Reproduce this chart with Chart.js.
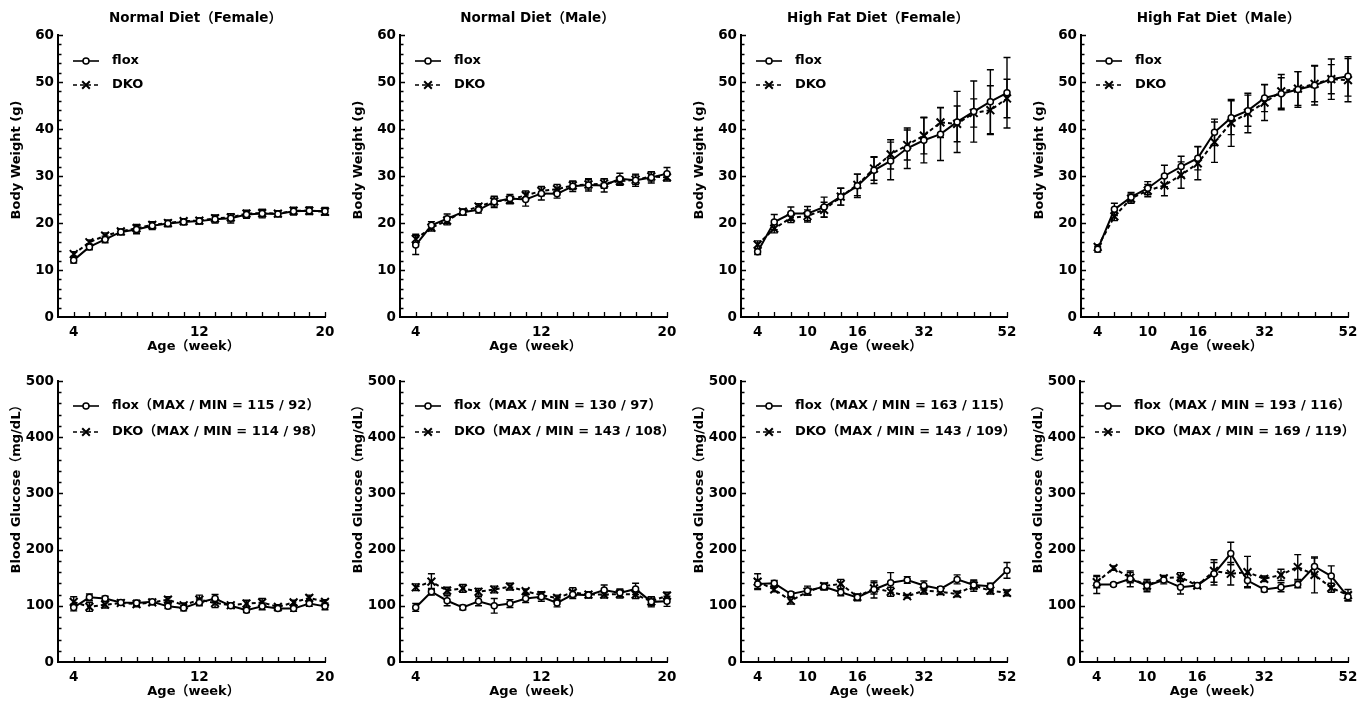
<!DOCTYPE html>
<html>
<head>
<meta charset="utf-8">
<script src="https://cdn.jsdelivr.net/npm/chart.js@4.4.1/dist/chart.umd.min.js"></script>
<style>
  body { margin: 0; background: #fff; width: 1368px; height: 703px; position: relative; overflow: hidden; }
  canvas { position: absolute; }
</style>
</head>
<body>
<canvas id="c0"></canvas><canvas id="c1"></canvas><canvas id="c2"></canvas><canvas id="c3"></canvas>
<canvas id="c4"></canvas><canvas id="c5"></canvas><canvas id="c6"></canvas><canvas id="c7"></canvas>
<script>
// x categories (weeks)
const weeksND = [4, 5, 6, 7, 8, 9, 10, 11, 12, 13, 14, 15, 16, 17, 18, 19, 20];
const weeksHFD = [4, 6, 8, 10, 12, 14, 16, 20, 24, 28, 32, 36, 40, 44, 48, 52];
const ticksND = [4, 12, 20];
const ticksHFD = [4, 10, 16, 32, 52];

// body weight (g), mean and error
const bwNdFemFlox = [12.1, 14.9, 16.5, 18.1, 18.6, 19.4, 19.9, 20.2, 20.4, 20.8, 21.0, 21.8, 22.0, 21.9, 22.5, 22.6, 22.5];
const bwNdFemFloxErr = [0.6, 0.6, 0.7, 0.6, 0.9, 0.8, 0.7, 0.6, 0.6, 0.8, 1.0, 0.8, 0.9, 0.6, 0.8, 0.8, 0.8];
const bwNdFemDko = [13.4, 15.9, 17.3, 18.2, 18.9, 19.6, 20.0, 20.4, 20.5, 21.0, 21.2, 22.0, 22.1, 22.0, 22.6, 22.6, 22.4];
const bwNdFemDkoErr = [0.5, 0.5, 0.6, 0.5, 0.8, 0.7, 0.6, 0.5, 0.6, 0.7, 0.8, 0.7, 0.8, 0.6, 0.7, 0.7, 0.7];

const bwNdMalFlox = [15.3, 19.5, 20.9, 22.3, 22.8, 24.5, 25.2, 25.0, 26.3, 26.2, 27.8, 28.1, 28.0, 29.4, 29.1, 29.7, 30.5];
const bwNdMalFloxErr = [2.0, 0.8, 1.0, 0.6, 0.7, 1.2, 0.9, 1.4, 1.4, 0.9, 1.1, 1.3, 1.4, 1.2, 1.3, 1.2, 1.3];
const bwNdMalDko = [16.6, 19.0, 20.5, 22.4, 23.5, 24.6, 24.9, 25.9, 26.8, 27.2, 28.0, 28.2, 28.4, 28.9, 29.2, 29.9, 29.7];
const bwNdMalDkoErr = [1.0, 0.7, 0.9, 0.6, 0.6, 1.0, 0.8, 0.9, 1.0, 1.0, 0.9, 1.0, 1.0, 0.9, 1.0, 1.0, 0.8];

const bwHfdFemFlox = [13.9, 20.2, 22.0, 22.0, 23.4, 25.6, 27.9, 31.2, 33.2, 35.9, 37.6, 38.9, 41.5, 43.7, 45.8, 47.7];
const bwHfdFemFloxErr = [0.6, 1.6, 1.4, 1.5, 2.1, 1.8, 2.5, 2.8, 4.0, 4.3, 4.8, 5.6, 6.5, 6.5, 6.8, 7.5];
const bwHfdFemDko = [15.4, 18.8, 21.1, 21.5, 22.8, 25.6, 28.1, 31.6, 34.6, 36.6, 38.6, 41.4, 41.1, 43.4, 44.0, 46.5];
const bwHfdFemDkoErr = [0.8, 0.9, 1.0, 1.3, 1.6, 1.8, 2.3, 2.5, 3.1, 3.2, 3.9, 3.2, 3.8, 3.0, 5.2, 4.1];

const bwHfdMalFlox = [14.4, 22.9, 25.5, 27.4, 30.0, 32.0, 33.8, 39.3, 42.4, 43.9, 46.6, 47.5, 48.4, 49.3, 50.6, 51.2];
const bwHfdMalFloxErr = [0.6, 1.3, 1.0, 1.4, 2.3, 2.2, 2.5, 2.8, 3.6, 3.3, 2.9, 3.4, 3.8, 4.2, 4.3, 4.2];
const bwHfdMalDko = [14.9, 21.4, 25.2, 26.9, 28.0, 30.2, 32.7, 37.2, 41.3, 43.4, 45.6, 48.0, 48.6, 49.6, 50.6, 50.4];
const bwHfdMalDkoErr = [0.5, 0.9, 1.0, 1.3, 2.2, 2.8, 3.5, 4.3, 5.0, 4.2, 3.8, 3.6, 3.6, 3.8, 3.1, 4.6];

// blood glucose (mg/dL), mean and error
const bgNdFemFlox = [97, 115, 113, 106, 105, 107, 99, 96, 106, 113, 100, 92, 99, 95, 95, 104, 99];
const bgNdFemFloxErr = [6, 6, 4, 4, 5, 4, 4, 5, 6, 7, 4, 4, 6, 4, 5, 5, 6];
const bgNdFemDko = [107, 98, 102, 105, 103, 106, 111, 101, 111, 105, 101, 104, 106, 98, 106, 114, 107];
const bgNdFemDkoErr = [9, 8, 6, 4, 5, 4, 5, 4, 8, 8, 4, 6, 7, 4, 4, 5, 4];

const bgNdMalFlox = [97, 125, 109, 97, 108, 100, 104, 113, 116, 105, 120, 119, 128, 123, 130, 107, 108];
const bgNdMalFloxErr = [7, 6, 9, 4, 8, 13, 7, 7, 8, 7, 7, 5, 9, 7, 10, 9, 9];
const bgNdMalDko = [133, 143, 127, 131, 125, 129, 134, 126, 119, 114, 124, 120, 120, 121, 120, 108, 118];
const bgNdMalDkoErr = [6, 14, 6, 7, 6, 6, 6, 4, 6, 5, 8, 5, 6, 7, 7, 8, 6];

const bgHfdFemFlox = [139, 140, 121, 127, 134, 124, 115, 129, 141, 146, 136, 130, 147, 137, 135, 163];
const bgHfdFemFloxErr = [8, 5, 4, 8, 6, 6, 6, 15, 18, 6, 8, 4, 8, 7, 5, 14];
const bgHfdFemDko = [143, 129, 109, 125, 135, 139, 116, 131, 125, 117, 127, 125, 121, 136, 127, 123];
const bgHfdFemDkoErr = [14, 4, 6, 6, 5, 8, 4, 10, 8, 3, 6, 5, 5, 10, 6, 5];

const bgHfdMalFlox = [138, 138, 148, 136, 146, 133, 136, 157, 193, 145, 129, 133, 138, 170, 153, 116];
const bgHfdMalFloxErr = [16, 3, 14, 11, 7, 12, 4, 20, 20, 11, 4, 8, 6, 15, 18, 7];
const bgHfdMalDko = [142, 167, 150, 136, 149, 151, 136, 162, 157, 160, 148, 155, 169, 155, 132, 119];
const bgHfdMalDkoErr = [10, 4, 9, 8, 5, 8, 4, 20, 20, 28, 5, 10, 22, 32, 8, 10];

// legend labels
const legendBw = ['flox', 'DKO'];
const legendBgNdFem = ['flox（MAX / MIN = 115 / 92）', 'DKO（MAX / MIN = 114 / 98）'];
const legendBgNdMal = ['flox（MAX / MIN = 130 / 97）', 'DKO（MAX / MIN = 143 / 108）'];
const legendBgHfdFem = ['flox（MAX / MIN = 163 / 115）', 'DKO（MAX / MIN = 143 / 109）'];
const legendBgHfdMal = ['flox（MAX / MIN = 193 / 116）', 'DKO（MAX / MIN = 169 / 119）'];

const FONT = '"DejaVu Sans", "Noto Sans CJK JP", sans-serif';

const panels = [
  { cx: 0,    L: 58,   R: 325,  row: 0, nd: true,  title: 'Normal Diet（Female）', bw: true, flox: [bwNdFemFlox, bwNdFemFloxErr], dko: [bwNdFemDko, bwNdFemDkoErr], legend: legendBw },
  { cx: 342,  L: 400,  R: 667,  row: 0, nd: true,  title: 'Normal Diet（Male）', bw: true, flox: [bwNdMalFlox, bwNdMalFloxErr], dko: [bwNdMalDko, bwNdMalDkoErr], legend: legendBw },
  { cx: 684,  L: 741,  R: 1007, row: 0, nd: false, title: 'High Fat Diet（Female）', bw: true, flox: [bwHfdFemFlox, bwHfdFemFloxErr], dko: [bwHfdFemDko, bwHfdFemDkoErr], legend: legendBw },
  { cx: 1026, L: 1081, R: 1348, row: 0, nd: false, title: 'High Fat Diet（Male）', bw: true, flox: [bwHfdMalFlox, bwHfdMalFloxErr], dko: [bwHfdMalDko, bwHfdMalDkoErr], legend: legendBw },
  { cx: 0,    L: 58,   R: 325,  row: 1, nd: true,  bw: false, flox: [bgNdFemFlox, bgNdFemFloxErr], dko: [bgNdFemDko, bgNdFemDkoErr], legend: legendBgNdFem },
  { cx: 342,  L: 400,  R: 667,  row: 1, nd: true,  bw: false, flox: [bgNdMalFlox, bgNdMalFloxErr], dko: [bgNdMalDko, bgNdMalDkoErr], legend: legendBgNdMal },
  { cx: 684,  L: 741,  R: 1007, row: 1, nd: false, bw: false, flox: [bgHfdFemFlox, bgHfdFemFloxErr], dko: [bgHfdFemDko, bgHfdFemDkoErr], legend: legendBgHfdFem },
  { cx: 1026, L: 1080, R: 1348, row: 1, nd: false, bw: false, flox: [bgHfdMalFlox, bgHfdMalFloxErr], dko: [bgHfdMalDko, bgHfdMalDkoErr], legend: legendBgHfdMal },
];

const rows = [
  { cy: 0,   ch: 360, T: 35,  B: 317 },
  { cy: 350, ch: 353, T: 381, B: 662 },
];

function drawMarker(ctx, style, x, y) {
  ctx.beginPath();
  if (style === 'circle') {
    ctx.arc(x, y, 3, 0, Math.PI * 2);
    ctx.fillStyle = '#fff';
    ctx.fill();
    ctx.lineWidth = 1.5;
  } else {
    const r = 3.8;
    ctx.moveTo(x - r, y - r); ctx.lineTo(x + r, y + r);
    ctx.moveTo(x - r, y + r); ctx.lineTo(x + r, y - r);
    ctx.lineWidth = 2;
  }
  ctx.setLineDash([]);
  ctx.stroke();
}

function decor(p, r) {
  return {
    id: 'decor',
    beforeDatasetsDraw(chart) {
      const { ctx, scales: { y } } = chart;
      ctx.save();
      ctx.strokeStyle = '#000';
      ctx.lineWidth = 1.4;
      chart.data.datasets.forEach((ds, di) => {
        chart.getDatasetMeta(di).data.forEach((pt, i) => {
          const v = ds.data[i].y, e = ds.errs[i];
          const y1 = y.getPixelForValue(v + e), y2 = y.getPixelForValue(v - e);
          ctx.beginPath();
          ctx.moveTo(pt.x, y1); ctx.lineTo(pt.x, y2);
          ctx.moveTo(pt.x - 3.5, y1); ctx.lineTo(pt.x + 3.5, y1);
          ctx.moveTo(pt.x - 3.5, y2); ctx.lineTo(pt.x + 3.5, y2);
          ctx.stroke();
        });
      });
      ctx.restore();
    },
    afterDraw(chart) {
      const { ctx, chartArea: a, scales: { x, y } } = chart;
      ctx.save();
      ctx.strokeStyle = '#000';
      ctx.fillStyle = '#000';
      // inward tick marks
      ctx.lineWidth = 1.3;
      ctx.beginPath();
      y.ticks.forEach(t => {
        if (t.value === 0) return;
        const py = Math.round(y.getPixelForValue(t.value)) + 0.5;
        const len = t.value % (p.bw ? 10 : 100) === 0 ? 5 : 3.5;
        ctx.moveTo(a.left, py); ctx.lineTo(a.left + len, py);
      });
      const xs = p.nd ? weeksND : weeksHFD.map((w, i) => i);
      xs.forEach(v => {
        const px = Math.round(x.getPixelForValue(v)) + 0.5;
        ctx.moveTo(px, a.bottom); ctx.lineTo(px, a.bottom - 5);
      });
      ctx.stroke();

      // texts
      ctx.font = 'bold 13.5px ' + FONT;
      ctx.textBaseline = 'middle';
      ctx.textAlign = 'center';
      const mid = (a.left + a.right) / 2;
      if (p.title) ctx.fillText(p.title, mid + 4, a.top - 17);
      ctx.font = 'bold 13px ' + FONT;
      ctx.fillText('Age（week）', mid + 2, a.bottom + 30);
      ctx.save();
      ctx.translate(a.left - 41, a.top + (p.bw ? 125 : 105));
      ctx.rotate(-Math.PI / 2);
      ctx.fillText(p.bw ? 'Body Weight (g)' : 'Blood Glucose（mg/dL）', 0, 0);
      ctx.restore();

      // legend
      const styles = ['circle', 'crossRot'];
      p.legend.forEach((label, i) => {
        const ly = a.top + (p.bw ? 26 + i * 24 : 25 + i * 26);
        const x0 = a.left + 15, x1 = a.left + 41;
        ctx.beginPath();
        ctx.lineWidth = 1.6;
        ctx.setLineDash(i === 0 ? [] : [4, 3]);
        ctx.moveTo(x0, ly); ctx.lineTo(x1, ly);
        ctx.stroke();
        drawMarker(ctx, styles[i], (x0 + x1) / 2, ly);
        ctx.fillStyle = '#000';
        ctx.textAlign = 'left';
        ctx.fillText(label, a.left + 54, ly);
      });
      ctx.restore();
    }
  };
}

panels.forEach((p, k) => {
  const r = rows[p.row];
  const cv = document.getElementById('c' + k);
  const cw = 342;
  cv.width = cw; cv.height = r.ch;
  cv.style.left = p.cx + 'px'; cv.style.top = r.cy + 'px';
  const xs = p.nd ? weeksND : weeksHFD.map((w, i) => i);
  const mk = (vals) => xs.map((xv, i) => ({ x: xv, y: vals[i] }));
  const tickFont = { family: FONT, size: 13.5, weight: 'bold' };

  new Chart(cv, {
    type: 'line',
    data: {
      datasets: [
        { label: 'flox', data: mk(p.flox[0]), errs: p.flox[1], borderColor: '#000', borderWidth: 2,
          pointStyle: 'circle', pointRadius: 3, pointBackgroundColor: '#fff', pointBorderColor: '#000',
          pointBorderWidth: 1.5, tension: 0, clip: false },
        { label: 'DKO', data: mk(p.dko[0]), errs: p.dko[1], borderColor: '#000', borderWidth: 2, borderDash: [4, 3],
          pointStyle: 'crossRot', pointRadius: 5.5, pointBorderColor: '#000', pointBorderWidth: 2,
          tension: 0, clip: false },
      ]
    },
    options: {
      responsive: false,
      animation: false,
      devicePixelRatio: 1,
      layout: {
        padding: { left: p.L - p.cx - 40, right: p.cx + cw - p.R, top: r.T - r.cy, bottom: r.cy + r.ch - r.B - 20 }
      },
      plugins: { legend: { display: false }, tooltip: { enabled: false } },
      scales: {
        x: {
          type: 'linear',
          min: p.nd ? 3 : -1,
          max: p.nd ? 20 : 15,
          grid: { display: false, drawTicks: false },
          border: { display: true, color: '#000', width: 2 },
          ticks: {
            stepSize: 1, autoSkip: false, maxRotation: 0, padding: 7, color: '#000', font: tickFont,
            callback: v => p.nd ? (ticksND.includes(v) ? String(v) : '')
                                : (ticksHFD.includes(weeksHFD[v]) ? String(weeksHFD[v]) : '')
          },
          afterFit: s => { s.height = 20; }
        },
        y: {
          min: 0,
          max: p.bw ? 60 : 500,
          grid: { display: false, drawTicks: false },
          border: { display: true, color: '#000', width: 2 },
          ticks: {
            stepSize: p.bw ? 2 : 20, autoSkip: false, padding: 4, color: '#000', font: tickFont,
            callback: v => v % (p.bw ? 10 : 100) === 0 ? String(v) : ''
          },
          afterFit: s => { s.width = 40; }
        }
      }
    },
    plugins: [decor(p, r)]
  });
});
</script>
</body>
</html>
